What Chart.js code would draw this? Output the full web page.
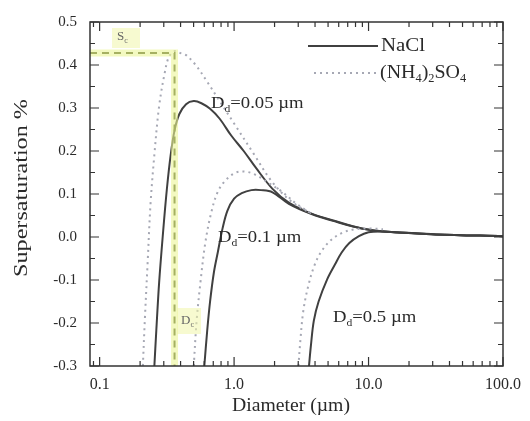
<!DOCTYPE html>
<html>
<head>
<meta charset="utf-8">
<script src="https://cdn.jsdelivr.net/npm/chart.js@4/dist/chart.umd.min.js"></script>
<style>
html,body{margin:0;padding:0;background:#fff;}
#wrap{width:530px;height:421px;}
</style>
</head>
<body>
<div id="wrap"><canvas id="c" width="530" height="421"></canvas></div>
<script>
// ---- data ----
const xMin = 0.0848, xMax = 100;
const xTickValues = [0.1, 1, 10, 100];
const yTickValues = [-0.3, -0.2, -0.1, 0.0, 0.1, 0.2, 0.3, 0.4, 0.5];

// NaCl, Dd = 0.05 um
const nacl005D = [0.2553,0.2639,0.2772,0.2960,0.3162,0.3377,0.3607,0.3916,0.4394,0.5012,0.5716,0.6629,0.7813,0.9519,1.1788,1.460,1.931,2.554,3.728,5.812,8.913,13.89,31.62,100];
const nacl005S = [-0.30,-0.218,-0.105,0.009,0.111,0.191,0.248,0.286,0.309,0.316,0.311,0.298,0.275,0.236,0.200,0.160,0.112,0.080,0.055,0.036,0.020,0.012,0.006,0.002];
// NaCl, Dd = 0.1 um
const nacl01D = [0.6006,0.6310,0.6629,0.7079,0.7561,0.8209,0.8913,1.0,1.1405,1.345,1.585,1.931,2.554,3.728,5.812,8.913,13.89,31.62,100];
const nacl01S = [-0.30,-0.218,-0.150,-0.082,-0.036,0.020,0.061,0.089,0.102,0.109,0.109,0.104,0.077,0.054,0.035,0.020,0.012,0.006,0.002];
// NaCl, Dd = 0.5 um
const nacl05D = [3.607,3.728,3.916,4.252,4.931,5.623,6.310,7.197,8.483,10.0,12.18,16.38,31.62,100];
const nacl05S = [-0.30,-0.252,-0.195,-0.150,-0.098,-0.064,-0.036,-0.014,0.002,0.011,0.013,0.011,0.006,0.002];
// (NH4)2SO4, Dd = 0.05 um
const as005D = [0.2097,0.2167,0.2276,0.2391,0.2553,0.2772,0.3059,0.3268,0.3607,0.4046,0.4394,0.5179,0.6310,0.7813,1.0,1.389,1.931,2.683,3.728];
const as005S = [-0.30,-0.195,-0.059,0.077,0.191,0.305,0.384,0.418,0.432,0.427,0.423,0.400,0.361,0.316,0.264,0.195,0.127,0.082,0.055];
// (NH4)2SO4, Dd = 0.1 um
const as01D = [0.5012,0.5265,0.5623,0.6105,0.6740,0.7561,0.8768,1.0335,1.2182,1.436,1.778,2.276,2.913,3.728];
const as01S = [-0.30,-0.195,-0.105,-0.014,0.055,0.105,0.134,0.150,0.152,0.145,0.127,0.105,0.077,0.055];
// (NH4)2SO4, Dd = 0.5 um
const as05D = [3.010,3.111,3.268,3.548,3.981,4.541,5.353,6.521,7.943,10.0,12.80];
const as05S = [-0.30,-0.241,-0.173,-0.116,-0.064,-0.030,-0.005,0.011,0.018,0.020,0.018];
// critical point of the (NH4)2SO4 0.05 um curve
const critD = [0.3607];
const critS = [0.428];

const serif = '"Liberation Serif","DejaVu Serif",serif';
const pts = (xs, ys) => xs.map((x, i) => ({x: x, y: ys[i]}));

const naclStyle = {borderColor:'#404040', borderWidth:2, pointRadius:0, tension:0.35, fill:false};
const asStyle = {borderColor:'#a6a8b4', borderWidth:2, borderDash:[2,4], pointRadius:0, tension:0.35, fill:false};

const critLine = [{x:xMin, y:critS[0]}, {x:critD[0], y:critS[0]}, {x:critD[0], y:-0.3}];

const datasets = [
  Object.assign({label:'crit-glow', data: critLine, borderColor:'rgba(235,245,150,0.6)', borderWidth:7, pointRadius:0, tension:0}),
  Object.assign({label:'crit', data: critLine, borderColor:'#3c4a14', borderWidth:2, borderDash:[7,5], pointRadius:0, tension:0}),
  Object.assign({label:'AS 0.05', data: pts(as005D, as005S)}, asStyle),
  Object.assign({label:'AS 0.1', data: pts(as01D, as01S)}, asStyle),
  Object.assign({label:'AS 0.5', data: pts(as05D, as05S)}, asStyle),
  Object.assign({label:'NaCl 0.05', data: pts(nacl005D, nacl005S)}, naclStyle),
  Object.assign({label:'NaCl 0.1', data: pts(nacl01D, nacl01S)}, naclStyle),
  Object.assign({label:'NaCl 0.5', data: pts(nacl05D, nacl05S)}, naclStyle),
];

// text helpers
function txt(ctx, s, x, y, size, sx) {
  ctx.save();
  ctx.font = size + 'px ' + serif;
  ctx.translate(x, y);
  ctx.scale(sx || 1, 1);
  ctx.fillText(s, 0, 0);
  const w = ctx.measureText(s).width * (sx || 1);
  ctx.restore();
  return w;
}
// sequence of [text, isSub]
function rich(ctx, parts, x, y, size, sx) {
  let cx = x;
  for (const p of parts) {
    if (p[1]) cx += txt(ctx, p[0], cx, y + size * 0.3, size * 0.62, sx);
    else cx += txt(ctx, p[0], cx, y, size, sx);
  }
}

const decor = {
  id: 'decor',
  afterDatasetsDraw(chart) {
    const ctx = chart.ctx, a = chart.chartArea;
    const xs = chart.scales.x, ys = chart.scales.y;
    ctx.save();
    // frame
    ctx.strokeStyle = '#333'; ctx.lineWidth = 1.5;
    ctx.strokeRect(a.left, a.top, a.right - a.left, a.bottom - a.top);
    // y ticks, inward on both sides
    ctx.lineWidth = 1.2;
    for (let k = -6; k <= 10; k++) {
      const py = ys.getPixelForValue(k * 0.05);
      const len = (k % 2 === 0) ? 9 : 5;
      ctx.beginPath();
      ctx.moveTo(a.left, py); ctx.lineTo(a.left + len, py);
      ctx.moveTo(a.right, py); ctx.lineTo(a.right - len, py);
      ctx.stroke();
    }
    // x ticks (log), inward on bottom and top
    for (let e = -2; e <= 2; e++) {
      for (let m = 1; m <= 9; m++) {
        const v = m * Math.pow(10, e);
        if (v < xMin || v > xMax * 1.0001) continue;
        const px = xs.getPixelForValue(v);
        const len = (m === 1) ? 9 : 5;
        ctx.beginPath();
        ctx.moveTo(px, a.bottom); ctx.lineTo(px, a.bottom - len);
        ctx.moveTo(px, a.top); ctx.lineTo(px, a.top + len);
        ctx.stroke();
      }
    }
    // legend
    ctx.fillStyle = '#2a2a2a';
    ctx.textBaseline = 'middle';
    ctx.strokeStyle = '#404040'; ctx.lineWidth = 2; ctx.setLineDash([]);
    ctx.beginPath(); ctx.moveTo(308, 46); ctx.lineTo(378, 46); ctx.stroke();
    rich(ctx, [['NaCl', false]], 381, 46, 19, 1.1);
    ctx.strokeStyle = '#a6a8b4'; ctx.setLineDash([2,4]);
    ctx.beginPath(); ctx.moveTo(314, 73); ctx.lineTo(376, 73); ctx.stroke();
    ctx.setLineDash([]);
    rich(ctx, [['(NH', false], ['4', true], [')', false], ['2', true], ['SO', false], ['4', true]], 380, 73, 19, 1.05);

    // curve labels
    const lab = (x, y, dd) => rich(ctx, [['D', false], ['d', true], ['=' + dd + ' µm', false]], x, y, 17, 1.1);
    lab(211, 104, '0.05');
    lab(218, 238, '0.1');
    lab(333, 318, '0.5');

    // Sc and Dc markers
    ctx.fillStyle = 'rgba(240,245,170,0.55)';
    ctx.fillRect(112, 28, 28, 20);
    ctx.fillRect(177, 308, 24, 26);
    ctx.fillStyle = '#666';
    rich(ctx, [['S', false], ['c', true]], 117, 37, 13, 1);
    rich(ctx, [['D', false], ['c', true]], 181, 321, 13, 1);

    // axis titles
    ctx.fillStyle = '#2a2a2a';
    ctx.textAlign = 'center';
    ctx.font = '18px ' + serif;
    const wx = ctx.measureText('Diameter (µm)').width;
    ctx.save();
    ctx.translate(291, 406);
    ctx.scale(118 / wx, 1);
    ctx.fillText('Diameter (µm)', 0, 0);
    ctx.restore();
    const wy = ctx.measureText('Supersaturation %').width;
    ctx.save();
    ctx.translate(22, 188);
    ctx.rotate(-Math.PI / 2);
    ctx.scale(178 / wy, 1);
    ctx.fillText('Supersaturation %', 0, 0);
    ctx.restore();
    ctx.restore();
  }
};

new Chart(document.getElementById('c'), {
  type: 'line',
  data: { datasets: datasets },
  options: {
    responsive: false,
    animation: false,
    layout: { padding: { left: 0, right: 11, top: 14, bottom: 0 } },
    plugins: { legend: { display: false }, tooltip: { enabled: false } },
    scales: {
      x: {
        type: 'logarithmic', min: xMin, max: xMax,
        grid: { display: false, drawTicks: false },
        border: { display: false },
        afterBuildTicks: (s) => { s.ticks = xTickValues.map(v => ({ value: v })); },
        afterFit: (s) => { s.height = 55; },
        ticks: {
          autoSkip: false, maxRotation: 0, padding: 9,
          color: '#2a2a2a', font: { family: serif, size: 16 },
          callback: (v) => Number(v).toFixed(1)
        }
      },
      y: {
        type: 'linear', min: -0.3, max: 0.5,
        grid: { display: false, drawTicks: false },
        border: { display: false },
        afterBuildTicks: (s) => { s.ticks = yTickValues.map(v => ({ value: v })); },
        afterFit: (s) => { s.width = 90; },
        ticks: {
          autoSkip: false, padding: 13,
          color: '#2a2a2a', font: { family: serif, size: 15 },
          callback: (v) => Number(v).toFixed(1)
        }
      }
    }
  },
  plugins: [decor]
});
</script>
</body>
</html>
